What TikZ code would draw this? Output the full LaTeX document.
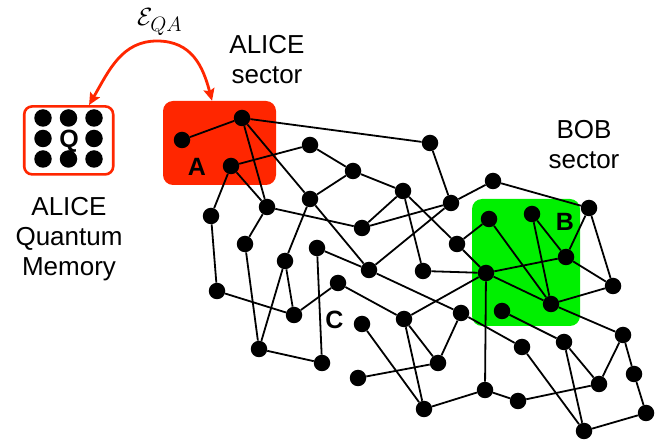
\documentclass[tikz,border=0pt]{standalone}
\usepackage{fontspec}
\setmainfont{Liberation Sans}
\setsansfont{Liberation Sans}
\usetikzlibrary{arrows.meta}

\definecolor{alicered}{RGB}{255,38,0}
\definecolor{bobgreen}{RGB}{0,240,0}

\newcommand*\sitesize{16.5pt}
\newcommand*\linkwidth{1.8pt}
\tikzset{site/.style={
    circle,
    fill=black,
    inner sep=0pt,
    minimum size=\sitesize
},
link/.style={line width=\linkwidth},
sector/.style 2 args={
    rectangle,
    rounded corners=10pt,
    inner sep=0pt,
    minimum width=#1,
    minimum height=#2
},
letter/.style={font=\bfseries\fontsize{25}{25}\selectfont, inner sep=0pt},
caption/.style={font=\fontsize{26}{30}\selectfont, align=center, inner sep=0pt, anchor=north},
entangle/.tip={Stealth[length=12pt,width=11pt,inset=2pt]}
}

\begin{document}
\begin{tikzpicture}[x=1pt,y=-1pt]
    \useasboundingbox (0,0) rectangle (667,443);

    % First the two sectors and the memory box.
    \node[sector={113pt}{84pt}, fill=alicered] (asector) at (219.5,143) {};
    \node[sector={108pt}{127pt}, fill=bobgreen] (bsector) at (526,262.5) {};
    \node[sector={89pt}{68pt}, rounded corners=8pt, draw=alicered, line width=2.6pt, fill=white] (memory) at (68.7,140.4) {};

    % Memory qubits; the middle place holds the letter.
    \foreach \c/\r in {0/0,1/0,2/0,0/1,2/1,0/2,1/2,2/2}
        \node[site, minimum size=17.5pt] (q\c\r) at (43+25.5*\c,118+20.5*\r) {};

    % Sites of the network.
    \foreach \name/\x/\y in {a1/182/140, a2/242/118, a3/231/166,
        p1/310/145, p2/353/171, p3/430/143, p4/403/191, p5/451/203, p6/493/181,
        p7/310/199, p8/267/207, p9/211/216, p10/362/228, p11/457/244, p12/245/244,
        p13/317/248, p14/285/261, p15/369/270, p16/423/271, p17/338/283, p18/217/291,
        p19/294/315, p20/362/324, p21/404/319, p22/461/313, p23/259/349, p24/322/363,
        p25/438/363, p26/358/378, p27/424/409, p28/522/347, p29/564/342, p30/623/335,
        p31/634/374, p32/599/384, p33/485/390, p34/518/401, p35/646/413, p36/584/431,
        b1/489/219, b2/532/214, b3/589/208, b4/566/257, b5/486/273, b6/613/286,
        b7/551/304, b8/502/311}
        \node[site] (\name) at (\x,\y) {};

    % Links between the sites.
    \foreach \from/\to in {a1/a2, a2/p3, a2/p8, a2/p7, a3/p1, a3/p8, a3/p9,
        p1/p2, p7/p2, p2/p4, p3/p5, p5/p6, p6/b3, p4/p10, p4/p16, p4/p11,
        p5/p10, p5/p15, p8/p10, p8/p12, p7/p14, p7/p15, p9/p18, p18/p19,
        p12/p23, p14/p23, p14/p19, p19/p17, p23/p24, p13/p24, p13/p15, p15/p22,
        p17/p21, p20/p27, p21/p25, p21/p27, p21/b5, p26/p25, p25/p22, p27/p33,
        p16/b5, p11/b1, p11/b5, b1/b7, b2/b7, b2/b4, b3/b4, b3/b6, b5/b4,
        b4/b6, b5/b7, b7/b6, b5/p33, b7/p30, b8/p29, p22/p28, p28/p36, p29/p36,
        p29/p32, p30/p32, p30/p31, p31/p35, p35/p36, p33/p34, p34/p32}
        \draw[link] (\from) -- (\to);

    % Letters and captions.
    \node[letter] (qtag) at (69,141) {Q};
    \node[letter] (atag) at (197,167) {A};
    \node[letter] (btag) at (565,222) {B};
    \node[letter] (ctag) at (334.5,320) {C};
    \node[caption] (alicelabel) at (267,35) {ALICE\\sector};
    \node[caption] (boblabel) at (584,120) {BOB\\sector};
    \node[caption] (memlabel) at (69,197) {ALICE\\Quantum\\Memory};

    % Entanglement between the memory and the sector.
    \coordinate (peak) at (157,41);
    \draw[alicered, line width=2.8pt, {entangle}-{entangle}] (memory.60)
        .. controls +(20,-35) and +(-35,0) .. (peak)
        .. controls +(35,0) and +(-9,-34) .. (asector.100);
    \node[anchor=base west, inner sep=0pt, font=\fontsize{25}{25}\selectfont] (eqa) at (137,26)
        {$\mathcal{E}_{\mbox{\fontsize{20}{20}\selectfont$QA$}}$};
\end{tikzpicture}
\end{document}
